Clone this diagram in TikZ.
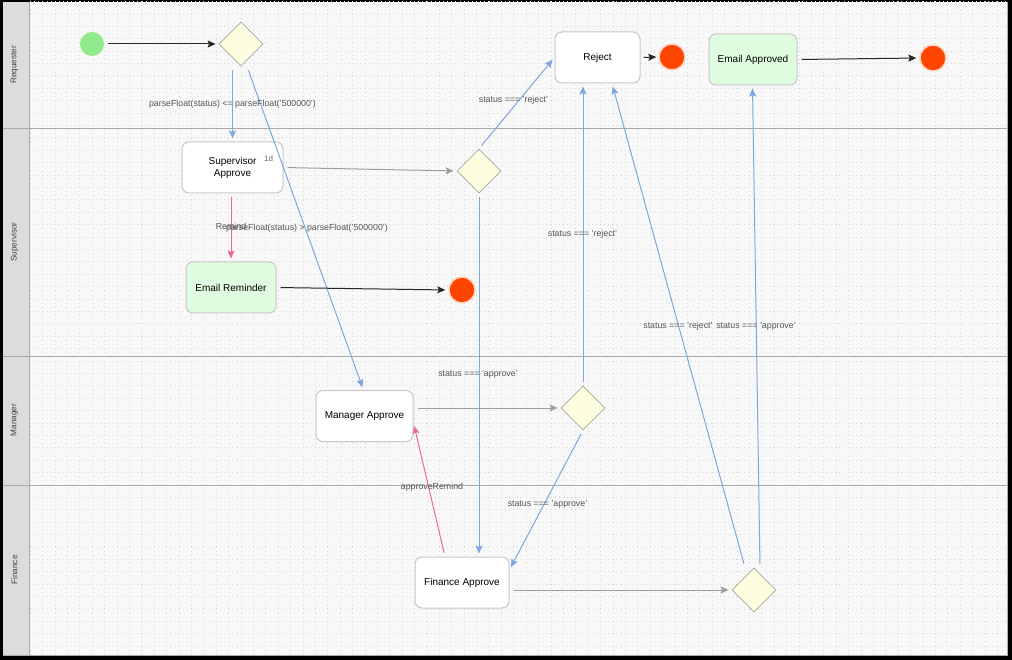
\documentclass[tikz,border=0pt]{standalone}
\usepackage{fontspec}
\setmainfont{Liberation Sans}
\usetikzlibrary{arrows.meta,shapes.geometric}

\definecolor{canvasbg}{HTML}{F8F8F8}
\definecolor{gridcol}{HTML}{D6D6D6}
\definecolor{headbg}{HTML}{DCDCDC}
\definecolor{rulecol}{HTML}{ABABAB}
\definecolor{flowblue}{HTML}{7EA6E0}
\definecolor{flowpink}{HTML}{EA6B8F}
\definecolor{flowgray}{HTML}{9E9E9E}
\definecolor{boxline}{HTML}{C8C8C8}
\definecolor{mailfill}{HTML}{E0FCE0}
\definecolor{gatefill}{HTML}{FDFDE0}
\definecolor{gateline}{HTML}{A8A8A0}
\definecolor{startfill}{HTML}{8EEA8A}
\definecolor{endfill}{HTML}{FF4500}
\definecolor{endring}{HTML}{FFD4C4}
\definecolor{labelcol}{HTML}{555555}

\tikzset{
  gridline/.style={gridcol, line width=0.6pt, dash pattern=on 0.6pt off 3.53pt},
  lanerule/.style={rulecol, line width=0.9pt},
  lanetext/.style={text=black!75, font=\fontsize{8.2}{9}\selectfont, rotate=90},
  task/.style={draw=boxline, line width=1pt, rounded corners=7pt, fill=white,
    align=center, inner sep=0pt, font=\fontsize{10}{12}\selectfont},
  mailtask/.style={task, fill=mailfill},
  gateway/.style={diamond, draw=gateline, fill=gatefill, line width=0.8pt,
    minimum width=44pt, minimum height=44pt, inner sep=0pt, aspect=1},
  startev/.style={circle, fill=startfill, minimum size=24pt, inner sep=0pt},
  endev/.style={circle, fill=endfill, draw=endring, line width=1.4pt,
    minimum size=26pt, inner sep=0pt},
  tip/.style={-{Stealth[length=8pt,width=7pt,inset=1.5pt]}},
  flow/.style={tip, line width=1pt, shorten <=4pt, shorten >=3pt},
  blueflow/.style={flow, flowblue},
  pinkflow/.style={flow, flowpink},
  grayflow/.style={flow, flowgray},
  blackflow/.style={flow, black!85},
  flowlabel/.style={text=labelcol, font=\fontsize{8.8}{10}\selectfont, inner sep=0pt},
}

\begin{document}
\begin{tikzpicture}[x=1pt,y=-1pt]
\useasboundingbox (0,0) rectangle (1012,660);

% frame and canvas
\fill[black] (0,0) rectangle (1012,660);
\fill[canvasbg] (3,2) rectangle (1008,656);

% dotted grid
\begin{scope}
  \clip (29,2) rectangle (1008,656);
  \foreach \i in {0,...,79} \draw[gridline] (30+12.4*\i,1.3) -- ++(0,660);
  \foreach \j in {0,...,53} \draw[gridline] (30,1.3+12.4*\j) -- ++(980,0);
\end{scope}

% lane headers and separators
\fill[headbg] (3,2) rectangle (29,656);
\draw[lanerule] (29,2) -- (29,656);
\draw[lanerule] (1007.5,2) -- (1007.5,656);
\draw[lanerule] (3,655.5) -- (1008,655.5);
\foreach \y in {128,356,485} \draw[lanerule] (3,\y) -- (1008,\y);

\node[lanetext] (lnReq) at (14.5,65) {Requester};
\node[lanetext] (lnSup) at (14.5,242) {Supervisor};
\node[lanetext] (lnMgr) at (14.5,420) {Manager};
\node[lanetext] (lnFin) at (14.5,570) {Finance};

% events and gateways
\node[startev] (start) at (92,44) {};
\node[gateway] (g1) at (241,44) {};
\node[gateway] (g2) at (479,171) {};
\node[gateway] (g3) at (583,408) {};
\node[gateway] (g4) at (754,590) {};
\node[endev] (endRem) at (462,290) {};
\node[endev] (endRej) at (672,57) {};
\node[endev] (endOk) at (933,58) {};

% tasks
\node[task, minimum width=101pt, minimum height=51pt] (sup) at (232.5,167.5) {Supervisor\\Approve};
\node[text=black!60, font=\fontsize{8}{9}\selectfont] (supTimer) at (268.5,159) {1d};
\node[mailtask, minimum width=90pt, minimum height=51pt] (rem) at (231,287.5) {Email Reminder};
\node[task, minimum width=85pt, minimum height=51pt] (rej) at (597.5,57.5) {Reject};
\node[mailtask, minimum width=88pt, minimum height=51pt] (ok) at (753,59.5) {Email Approved};
\node[task, minimum width=97pt, minimum height=51pt] (mgr) at (364.5,416) {Manager Approve};
\node[task, minimum width=94pt, minimum height=51pt] (fin) at (462,582.5) {Finance Approve};

% sequence flows
\draw[blackflow] (start) -- (g1.west);
\draw[blueflow] (g1.south -| sup.north) -- (sup.north);
\draw[blueflow] ([xshift=6pt]g1.south) -- ([xshift=-1pt]mgr.north);
\draw[pinkflow] ([xshift=-1.5pt]sup.south) -- ([xshift=-1.5pt]sup.south |- rem.north);
\draw[grayflow] (sup.east) -- (g2.west);
\draw[blackflow] (rem.east) -- (endRem.west);
\draw[blueflow] (g2.north) -- (rej.west);
\draw[blueflow] (g2.south) -- (g2.south |- fin.north);
\draw[blackflow, shorten <=3pt, shorten >=2pt] (rej.east) -- (endRej.west);
\draw[blackflow] (ok.east) -- (endOk.west);
\draw[grayflow] (mgr.east |- g3) -- (g3.west);
\draw[blueflow] (g3.north) -- (g3.north |- rej.south);
\draw[blueflow] (g3.south) -- (fin.15);
\draw[pinkflow] ([xshift=-17pt]fin.north) -- ([yshift=-7pt]mgr.east);
\draw[grayflow] (fin.east |- g4) -- (g4.west);
\draw[blueflow] ([xshift=-9pt]g4.north) -- ([xshift=14.5pt]rej.south);
\draw[blueflow] ([xshift=6pt]g4.north) -- ([xshift=-0.5pt]ok.south);

% flow conditions
\node[flowlabel] (cLow) at (232.5,104) {parseFloat(status) <= parseFloat('500000')};
\node[flowlabel] (cRem) at (231,226) {Remind};
\node[flowlabel] (cHigh) at (307,228) {parseFloat(status) > parseFloat('500000')};
\node[flowlabel] (cRej1) at (513.5,100) {status === 'reject'};
\node[flowlabel] (cRej2) at (582.5,234) {status === 'reject'};
\node[flowlabel] (cApp1) at (478,374) {status === 'approve'};
\node[flowlabel] (cApp2) at (547.5,504) {status === 'approve'};
\node[flowlabel] (cRemind) at (432,487) {approveRemind};
\node[flowlabel] (cRej3) at (678,326) {status === 'reject'};
\node[flowlabel] (cApp3) at (756,326) {status === 'approve'};
\end{tikzpicture}
\end{document}
